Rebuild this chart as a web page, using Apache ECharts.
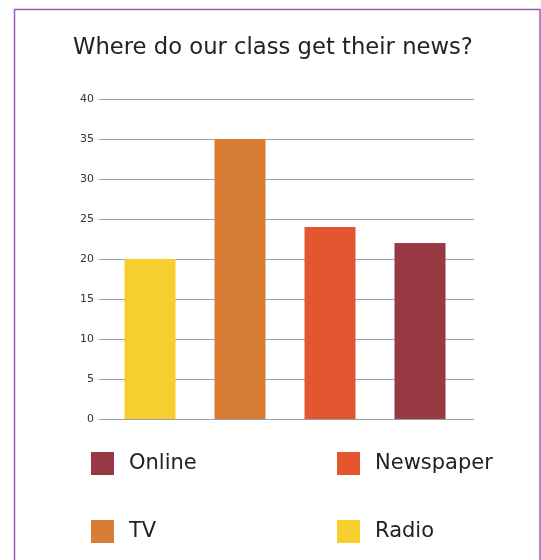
<!DOCTYPE html>
<html>
<head>
<meta charset="utf-8">
<script src="https://cdn.jsdelivr.net/npm/echarts@6/dist/echarts.min.js"></script>
<style>html,body{margin:0;padding:0;background:#fff;}#c{width:541px;height:560px;}</style>
</head>
<body>
<div id="c"></div>
<script>
var categories = ['Radio', 'TV', 'Newspaper', 'Online'];
var values = [20, 35, 24, 22];
var colors = ['#F5CF2E', '#D87D35', '#E45630', '#973843'];
var yTicks = [0, 5, 10, 15, 20, 25, 30, 35, 40];
var titleText = 'Where do our class get their news?';
var legendLeft = ['Online', 'TV'];
var legendRight = ['Newspaper', 'Radio'];

var chart = echarts.init(document.getElementById('c'));
var series = categories.map(function (name, i) {
  return {
    name: name,
    type: 'bar',
    xAxisIndex: 1,
    yAxisIndex: 1,
    barWidth: 51,
    barGap: '-100%',
    itemStyle: { color: colors[i] },
    data: categories.map(function (c, j) { return j === i ? values[i] : '-'; })
  };
});
var legendCommon = {
  orient: 'vertical',
  padding: 0,
  itemWidth: 23,
  itemHeight: 23,
  itemGap: 45,
  icon: 'rect',
  textStyle: { fontSize: 21, color: '#222', fontFamily: 'DejaVu Sans', padding: [0, 0, 0, 10] },
  selectedMode: false
};
chart.setOption({
  animation: false,
  backgroundColor: '#fff',
  title: {
    text: titleText,
    left: 73,
    top: 32,
    padding: [5, 0, 5, 0],
    textStyle: { fontSize: 22.7, fontWeight: 'normal', color: '#222', fontFamily: 'DejaVu Sans' }
  },
  graphic: [{
    type: 'rect',
    shape: { x: 14.5, y: 9.5, width: 525.5, height: 600 },
    style: { fill: 'none', stroke: '#9B59B6', lineWidth: 1.5 },
    silent: true
  }],
  legend: [
    Object.assign({ data: legendLeft, left: 91, top: 452 }, legendCommon),
    Object.assign({ data: legendRight, left: 337, top: 452 }, legendCommon)
  ],
  grid: [
    { left: 99, top: 99, width: 375, height: 320 },
    { left: 105, top: 99, width: 360, height: 320 }
  ],
  xAxis: [
    { type: 'category', gridIndex: 0, data: categories, show: false },
    { type: 'category', gridIndex: 1, data: categories, show: false }
  ],
  yAxis: [
    {
      type: 'value', gridIndex: 0, min: 0, max: 40, interval: 5,
      axisLine: { show: false }, axisTick: { show: false },
      axisLabel: { fontSize: 11, color: '#333', fontFamily: 'DejaVu Sans', margin: 5,
        formatter: function (v) { return yTicks.indexOf(v) >= 0 ? String(v) : ''; } },
      splitLine: { lineStyle: { color: '#9aa0a8', width: 1.2 } }
    },
    {
      type: 'value', gridIndex: 1, min: 0, max: 40, interval: 5, show: false,
      splitLine: { show: false }
    }
  ],
  series: series
});
</script>
</body>
</html>
